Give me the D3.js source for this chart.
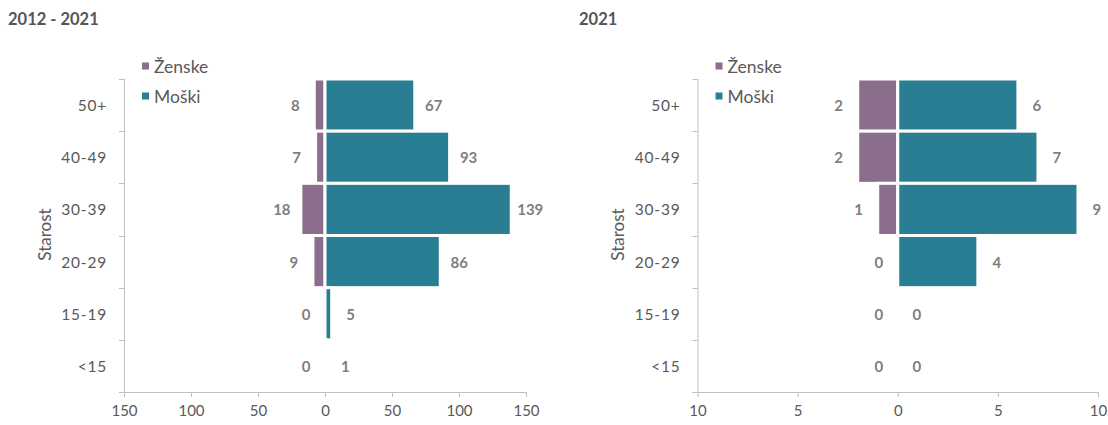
<!DOCTYPE html>
<html>
<head>
<meta charset="utf-8">
<script src="https://cdn.jsdelivr.net/npm/d3@7"></script>
<style>
  html, body { margin: 0; padding: 0; background: #fff; }
  svg { display: block; font-family: Lato, "Open Sans", sans-serif; }
</style>
</head>
<body>
<svg id="chart" width="1108" height="425"></svg>
<script>
// Age groups, top to bottom
const ages = ["50+", "40-49", "30-39", "20-29", "15-19", "<15"];

// 2012 - 2021 totals
const women2012to2021 = [8, 7, 18, 9, 0, 0];
const men2012to2021 = [67, 93, 139, 86, 5, 1];

// 2021 only
const women2021 = [2, 2, 1, 0, 0, 0];
const men2021 = [6, 7, 9, 4, 0, 0];

// Axis ticks
const ticksTotal = [-150, -100, -50, 0, 50, 100, 150];
const ticks2021 = [-10, -5, 0, 5, 10];

const seriesNames = ["Ženske", "Moški"];
const colorWomen = "#8b6e8b";
const colorMen = "#2a7e93";
const axisColor = "#bfbfbf";
const textColor = "#595959";
const labelColor = "#7f7f7f";

const svg = d3.select("#chart");

function drawPanel(opt) {
  const g = svg.append("g");

  const x = d3.scaleLinear().domain([opt.ticks[0], opt.ticks[opt.ticks.length - 1]])
    .range([opt.left, opt.right]);
  const y = d3.scaleBand().domain(ages).range([opt.top, opt.bottom]).padding(0);

  // title
  g.append("text")
    .attr("x", opt.titleX).attr("y", 25)
    .attr("font-size", 16.5).attr("font-weight", 700)
    .attr("fill", "#555").text(opt.title);

  // bars
  const rows = ages.map((a, i) => ({ age: a, w: opt.women[i], m: opt.men[i] }));

  g.selectAll("rect.w").data(rows).join("rect")
    .attr("class", "w")
    .attr("x", d => x(-d.w)).attr("width", d => x(0) - x(-d.w))
    .attr("y", d => y(d.age)).attr("height", y.bandwidth())
    .attr("fill", colorWomen)
    .attr("stroke", d => d.w > 0 ? "#fff" : "none").attr("stroke-width", 3);

  g.selectAll("rect.m").data(rows).join("rect")
    .attr("class", "m")
    .attr("x", x(0)).attr("width", d => x(d.m) - x(0))
    .attr("y", d => y(d.age)).attr("height", y.bandwidth())
    .attr("fill", colorMen)
    .attr("stroke", d => d.m > 0 ? "#fff" : "none").attr("stroke-width", 3);

  // value labels
  g.selectAll("text.lw").data(rows).join("text")
    .attr("class", "lw")
    .attr("x", d => x(-d.w) - 19).attr("y", d => y(d.age) + y.bandwidth() / 2)
    .attr("text-anchor", "middle").attr("dominant-baseline", "central")
    .attr("font-size", 15).attr("font-weight", 700).attr("fill", labelColor)
    .text(d => d.w);

  g.selectAll("text.lm").data(rows).join("text")
    .attr("class", "lm")
    .attr("x", d => x(d.m) + 19).attr("y", d => y(d.age) + y.bandwidth() / 2)
    .attr("text-anchor", "middle").attr("dominant-baseline", "central")
    .attr("font-size", 15).attr("font-weight", 700).attr("fill", labelColor)
    .text(d => d.m);

  // x axis
  const xAxis = d3.axisBottom(x).tickValues(opt.ticks).tickSizeOuter(0).tickSize(5)
    .tickFormat(d => Math.abs(d));
  const gx = g.append("g").attr("transform", `translate(0,${opt.bottom})`).call(xAxis);
  gx.select(".domain").attr("stroke", axisColor).attr("d", `M${opt.left - 5},0.5H${opt.right}`);
  gx.selectAll(".tick line").attr("stroke", axisColor);
  gx.selectAll(".tick text").attr("fill", textColor).attr("font-size", 15)
    .attr("font-family", "Lato, 'Open Sans', sans-serif").attr("dy", "1.05em");

  // y axis: ticks sit on band boundaries
  const ga = g.append("g").attr("transform", `translate(${opt.left},0)`);
  ga.append("line").attr("x1", 0.5).attr("x2", 0.5)
    .attr("y1", opt.top).attr("y2", opt.bottom).attr("stroke", axisColor);
  const bounds = ages.map(a => y(a)).concat([opt.bottom]);
  ga.selectAll("line.tk").data(bounds).join("line").attr("class", "tk")
    .attr("x1", -5).attr("x2", 0).attr("y1", d => Math.round(d) + 0.5).attr("y2", d => Math.round(d) + 0.5)
    .attr("stroke", axisColor);
  ga.selectAll("text.cat").data(ages).join("text").attr("class", "cat")
    .attr("x", -17).attr("y", d => y(d) + y.bandwidth() / 2)
    .attr("text-anchor", "end").attr("dominant-baseline", "central")
    .attr("font-size", 15.5).attr("letter-spacing", 0.8).attr("fill", textColor).text(d => d);

  // axis title
  g.append("text")
    .attr("transform", `translate(${opt.left - 80},${(opt.top + opt.bottom) / 2 - 1}) rotate(-90)`)
    .attr("text-anchor", "middle").attr("dominant-baseline", "central")
    .attr("font-size", 17).attr("fill", textColor).text("Starost");

  // legend
  const lg = g.append("g").attr("transform", `translate(${opt.left + 18},0)`);
  [colorWomen, colorMen].forEach((c, i) => {
    const cy = 66 + i * 30;
    lg.append("rect").attr("x", 0).attr("y", cy - 3.5).attr("width", 7).attr("height", 7).attr("fill", c);
    lg.append("text").attr("x", 12).attr("y", cy).attr("dominant-baseline", "central")
      .attr("font-size", 17.5).attr("fill", textColor).text(seriesNames[i]);
  });
}

drawPanel({
  title: "2012 - 2021", titleX: 8,
  left: 124, right: 526, top: 79, bottom: 392,
  ticks: ticksTotal, women: women2012to2021, men: men2012to2021
});

drawPanel({
  title: "2021", titleX: 579,
  left: 697.5, right: 1098, top: 79, bottom: 392,
  ticks: ticks2021, women: women2021, men: men2021
});
</script>
</body>
</html>
